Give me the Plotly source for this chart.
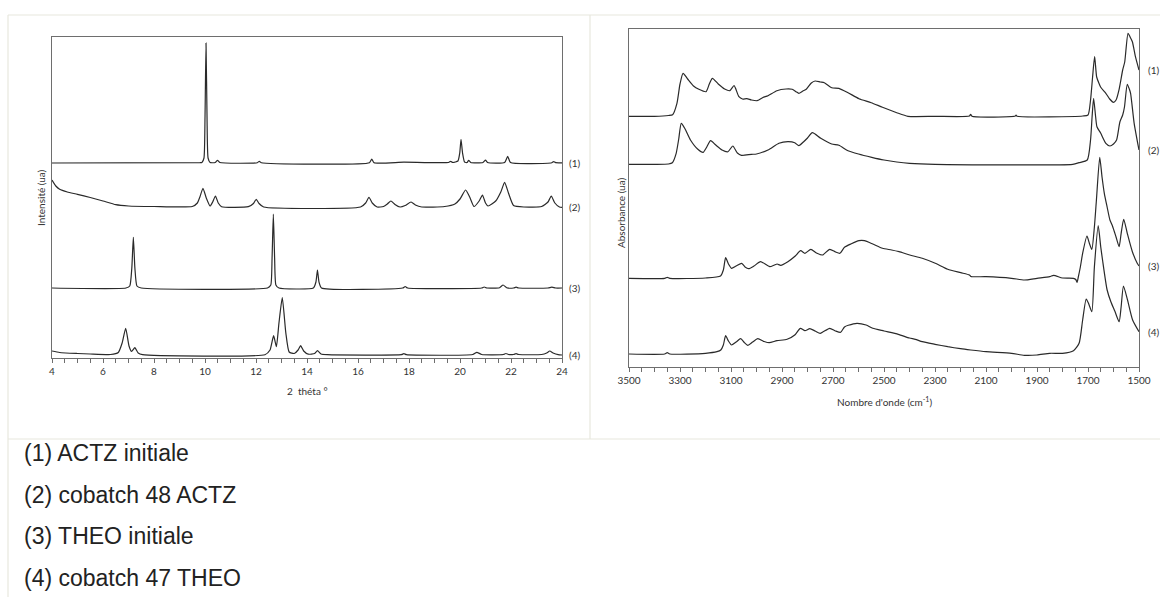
import plotly.graph_objects as go

W, H = 1160, 597

# ---------------- XRD data (2 theta, intensity a.u.) ----------------
xrd_labels = ["(1)", "(2)", "(3)", "(4)"]
xrd1_x = [4, 9.8, 9.88, 9.96, 10.0, 10.04, 10.08, 10.12, 10.2, 10.4, 10.49, 10.58, 12.05, 12.13, 12.21,
          16.45, 16.54, 16.63, 17.8, 19.55, 19.63, 19.72, 19.92, 19.99, 20.04, 20.1, 20.18, 20.28, 20.34,
          20.42, 20.9, 21.0, 21.08, 21.75, 21.87, 21.98, 23.6, 23.67, 23.75, 24]
xrd1_y = [195, 195.3, 195.5, 200, 240, 315, 240, 200, 195.5, 195.5, 197.7, 195.5, 195.3, 196.7, 195.3,
          195.3, 199, 195.3, 195.8, 195.5, 196.7, 195.5, 197, 205, 218.7, 205, 196, 195.5, 197.7,
          195.5, 195.5, 198, 195.5, 195.5, 201.7, 195.5, 195.3, 196.5, 195.3, 195.2]
xrd2_x = [4, 4.15, 4.3, 4.6, 5, 5.5, 6, 6.5, 7, 8, 9.5, 9.7, 9.8, 9.92, 10.05, 10.2, 10.3, 10.41, 10.52,
          10.65, 11.7, 11.9, 12.01, 12.12, 12.3, 16.1, 16.3, 16.43, 16.56, 16.75, 17.0, 17.15, 17.29, 17.45,
          17.65, 17.85, 18.08, 18.25, 18.5, 19.4, 19.8, 20.0, 20.22, 20.38, 20.55, 20.75, 20.88, 21.0, 21.1,
          21.4, 21.6, 21.75, 21.9, 22.1, 22.5, 23.2, 23.45, 23.58, 23.72, 23.9, 24]
xrd2_y = [178, 172, 168.7, 166, 163.7, 160.5, 157, 153.3, 152, 151.5, 151.5, 155, 161, 169.7, 160, 152, 156,
          162, 155, 151.3, 151.3, 154.5, 158.7, 154.5, 151, 151, 155, 160.7, 155, 151, 151.5, 154, 157, 153.5,
          151, 152.5, 156, 153, 151, 151.5, 154, 159, 168, 161, 151.5, 157, 163, 155, 152,
          157, 166, 175.7, 165, 152.5, 151, 151.5, 156, 162, 155, 151, 150.7]
xrd3_x = [4, 6.9, 7.05, 7.13, 7.19, 7.25, 7.33, 7.5, 12.45, 12.58, 12.63, 12.68, 12.73, 12.78, 12.9, 14.25,
          14.35, 14.41, 14.47, 14.57, 17.75, 17.85, 17.95, 20.85, 20.95, 21.05, 21.55, 21.69, 21.83, 22.1,
          22.2, 22.3, 23.45, 23.6, 23.75, 24]
xrd3_y = [70, 70, 72, 90, 120.7, 90, 72, 70, 70, 73, 100, 144, 100, 73, 70, 70,
          76, 88, 76, 70, 70, 71.5, 70, 70, 71, 70, 70.3, 73, 70.3, 70,
          70.8, 70, 70, 70.8, 70, 70]
xrd4_x = [4, 4.3, 5, 5.5, 6.3, 6.6, 6.75, 6.89, 7.02, 7.12, 7.25, 7.38, 7.55, 12.35, 12.55, 12.69, 12.8, 12.9,
          13.03, 13.17, 13.3, 13.5, 13.65, 13.75, 13.87, 14.05, 14.3, 14.41, 14.55, 14.8, 17.7, 17.8, 17.9,
          20.5, 20.66, 20.85, 21.7, 21.8, 21.9, 22.1, 22.2, 22.3, 23.2, 23.4, 23.52, 23.65, 23.85, 24]
xrd4_y = [7, 5.5, 4.5, 4, 3.5, 5.5, 15, 29.7, 12, 6.5, 10.3, 5, 3.3, 3.3, 8, 22.3, 11.3, 35,
          60.3, 25, 6, 4.5, 8, 12.3, 7, 3.8, 4.5, 7.3, 4, 3.3, 3.3, 4.3, 3.3,
          3.5, 5.7, 3.5, 3.5, 4.5, 3.5, 3.5, 4.3, 3.5, 3.5, 5, 7, 5, 3.3, 3]

# ---------------- IR data (wavenumber, absorbance a.u.) ----------------
ir1_x = [3500, 3400, 3345, 3329, 3312, 3300, 3288, 3270, 3247, 3226, 3198, 3185, 3173, 3150, 3125, 3105, 3088,
         3069, 3055, 3038, 3020, 2998, 2975, 2955, 2920, 2884, 2860, 2845, 2834, 2818, 2805, 2785, 2770, 2750,
         2734, 2705, 2677, 2641, 2598, 2550, 2506, 2450, 2406, 2300, 2165, 2160, 2155, 1985, 1982, 1978, 1720,
         1700, 1690, 1682, 1674, 1666, 1657, 1650, 1630, 1615, 1600, 1590, 1578, 1564, 1556, 1543, 1535, 1526,
         1514, 1500]
ir1_y = [250.7, 250.7, 251.5, 252.3, 263.7, 283, 293.7, 288, 281, 277.7, 275.3, 283, 288.7, 283, 278, 276.3, 281.3,
         270.3, 268, 268.3, 267, 266.3, 269.5, 271.3, 276.3, 278, 277.7, 275.3, 273.7, 276, 277.7, 284, 286, 285,
         284.3, 279.3, 278.7, 274.3, 268.3, 264.3, 259.7, 254.3, 250.7, 250.7, 251, 252.7, 250.7, 251, 252, 250.7, 251,
         252, 267, 290, 310.3, 290, 283.7, 279.7, 273.7, 268, 264.7, 267, 277.7, 297, 305, 333.7, 330, 325.3,
         310.3, 297]
ir2_x = [3500, 3400, 3345, 3330, 3315, 3305, 3295, 3280, 3259, 3230, 3209, 3195, 3180, 3160, 3135, 3112, 3093,
         3075, 3059, 3020, 3000, 2955, 2912, 2877, 2850, 2834, 2815, 2800, 2781, 2748, 2705, 2677, 2641, 2600,
         2548, 2500, 2450, 2400, 2300, 1760, 1735, 1703, 1690, 1684, 1678, 1670, 1665, 1650, 1630, 1614, 1600,
         1588, 1575, 1564, 1557, 1546, 1538, 1533, 1519, 1500]
ir2_y = [202.7, 202.7, 203, 204.3, 213.7, 228, 243.7, 238, 227, 217.7, 214.7, 220, 226.3, 222, 217, 215.3, 221,
         214, 211.7, 212.7, 213, 217, 223.7, 225.3, 224.3, 221.3, 225.3, 229, 234.3, 228.7, 223, 221.7, 216.3, 213,
         209.7, 207, 205, 203.7, 202.7, 202.7, 204.3, 207, 227, 250, 268.7, 250, 240.3, 233.7, 223.7, 221, 223,
         227, 245, 252, 260, 282.7, 278, 273.7, 243.7, 217]
ir3_x = [3500, 3360, 3350, 3340, 3200, 3141, 3130, 3121, 3110, 3098, 3080, 3058, 3045, 3031, 3010, 2984, 2948,
         2930, 2919, 2905, 2877, 2848, 2827, 2810, 2787, 2765, 2741, 2713, 2690, 2673, 2655, 2630, 2598, 2577,
         2544, 2506, 2470, 2441, 2399, 2350, 2299, 2250, 2199, 2165, 2159, 2100, 2000, 1949, 1900, 1850, 1835,
         1800, 1757, 1748, 1743, 1738, 1730, 1721, 1704, 1695, 1685, 1675, 1667, 1654, 1645, 1636, 1625, 1614,
         1604, 1590, 1578, 1570, 1560, 1546, 1526, 1507, 1500]
ir3_y = [88.7, 88.7, 89.7, 88.7, 89, 91, 97, 109.3, 103, 98.7, 101, 103.7, 100, 98.3, 101, 105.3, 100.3,
         102, 103, 101.7, 105.3, 111, 116.3, 113.7, 117.7, 114, 112, 117.7, 115, 113.7, 119.7, 123, 126.3, 126.3,
         123, 118.7, 117, 115.3, 112, 108.7, 103.7, 97.7, 94.3, 92, 90.5, 90.3, 88.7, 87, 88.7, 90.3, 91.7,
         89, 88.7, 87.5, 84.7, 90, 100, 113.7, 131, 124, 117.7, 140, 167, 209.7, 190, 173.7, 160, 147,
         141, 130, 120.3, 133.7, 147.7, 133.7, 115.3, 103.7, 101]
ir4_x = [3500, 3360, 3350, 3340, 3200, 3155, 3140, 3130, 3121, 3110, 3098, 3080, 3062, 3048, 3034, 3015, 2995,
         2970, 2950, 2920, 2880, 2850, 2828, 2810, 2791, 2770, 2750, 2713, 2690, 2670, 2655, 2640, 2606, 2570,
         2544, 2500, 2444, 2400, 2377, 2350, 2300, 2250, 2200, 2160, 2100, 2000, 1950, 1900, 1850, 1800, 1757,
         1735, 1721, 1707, 1697, 1685, 1675, 1660, 1650, 1643, 1625, 1610, 1595, 1578, 1570, 1561, 1545, 1525,
         1500]
ir4_y = [13, 13, 14.3, 13, 13.7, 15.3, 17, 22, 31.3, 26, 22, 25, 28.3, 24.5, 21.7, 25, 28.3,
         25.5, 24.3, 26.3, 27.7, 32, 38.7, 36.3, 38.3, 36, 33.7, 38.7, 36, 34.7, 40, 41.7, 43.7, 42,
         38.7, 36, 32.7, 29, 27.7, 25.3, 22.7, 20.3, 18.3, 17, 15.3, 13.7, 11.7, 12, 13.7, 13.7, 16.3,
         23.7, 47, 68, 63, 55.3, 100, 141.3, 120, 107, 77, 65, 56, 45.3, 60.3, 81, 67, 47,
         35.3]

legend_lines = ["(1) ACTZ initiale", "(2) cobatch 48 ACTZ", "(3) THEO initiale", "(4) cobatch 47 THEO"]

LINE = "#2a2a2a"
AX = "#6e6e6e"
PANEL = "#e8e8de"
AXFONT = "Lato"


def px(x):
    return x / W


def py(y):
    return 1 - y / H


fig = go.Figure()

for xs, ys in [(xrd1_x, xrd1_y), (xrd2_x, xrd2_y), (xrd3_x, xrd3_y), (xrd4_x, xrd4_y)]:
    fig.add_trace(go.Scatter(x=xs, y=ys, mode="lines", xaxis="x", yaxis="y",
                             line=dict(color=LINE, width=1.2, shape="spline", smoothing=0.5),
                             showlegend=False, hoverinfo="skip"))
for xs, ys in [(ir1_x, ir1_y), (ir2_x, ir2_y), (ir3_x, ir3_y), (ir4_x, ir4_y)]:
    fig.add_trace(go.Scatter(x=xs, y=ys, mode="lines", xaxis="x2", yaxis="y2",
                             line=dict(color=LINE, width=1.2, shape="spline", smoothing=0.6),
                             showlegend=False, hoverinfo="skip"))

common_x = dict(showline=True, mirror=True, linecolor=AX, linewidth=1.2, showgrid=False, zeroline=False,
                ticks="outside", ticklen=4, tickcolor=AX, tickfont=dict(family=AXFONT, size=10, color="#333"))
common_y = dict(showline=True, mirror=True, linecolor=AX, linewidth=1.2, showgrid=False, zeroline=False,
                showticklabels=False, ticks="")

fig.update_layout(
    width=W, height=H, margin=dict(l=0, r=0, t=0, b=0, autoexpand=False),
    paper_bgcolor="white", plot_bgcolor="white",
    xaxis=dict(domain=[px(52), px(562)], range=[4, 24], dtick=2, tick0=4,
               minor=dict(dtick=0.5, ticks="outside", ticklen=4, tickcolor=AX), anchor="y", **common_x),
    yaxis=dict(domain=[py(358), py(37)], range=[0, 321], anchor="x", **common_y),
    xaxis2=dict(domain=[px(629), px(1139)], range=[3500, 1500], dtick=200, tick0=1500,
                minor=dict(dtick=50, ticks="outside", ticklen=4, tickcolor=AX), anchor="y2", **common_x),
    yaxis2=dict(domain=[py(367), py(29)], range=[0, 338], anchor="x2", **common_y),
)

# panel borders
shapes = [
    dict(type="line", xref="paper", yref="paper", x0=px(8), x1=1, y0=py(15), y1=py(15)),
    dict(type="line", xref="paper", yref="paper", x0=px(8), x1=px(8), y0=py(15), y1=0),
    dict(type="line", xref="paper", yref="paper", x0=px(590), x1=px(590), y0=py(15), y1=py(439)),
    dict(type="line", xref="paper", yref="paper", x0=px(8), x1=1, y0=py(439), y1=py(439)),
]
for s in shapes:
    s["line"] = dict(color=PANEL, width=1.2)
fig.update_layout(shapes=shapes)

ann = []
# axis titles
ann.append(dict(text="2  théta °", xref="paper", yref="paper", x=px(307), y=py(391),
                xanchor="center", yanchor="middle",
                showarrow=False, font=dict(family=AXFONT, size=10, color="#333")))
ann.append(dict(text="Intensité (ua)", xref="paper", yref="paper", x=px(41), y=py(198), textangle=-90,
                xanchor="center", yanchor="middle",
                showarrow=False, font=dict(family=AXFONT, size=10, color="#333")))
ann.append(dict(text="Nombre d'onde (cm<sup>-1</sup>)", xref="paper", yref="paper", x=px(884), y=py(401),
                xanchor="center", yanchor="middle",
                showarrow=False, font=dict(family=AXFONT, size=10, color="#333")))
ann.append(dict(text="Absorbance (ua)", xref="paper", yref="paper", x=px(621), y=py(213), textangle=-90,
                xanchor="center", yanchor="middle",
                showarrow=False, font=dict(family=AXFONT, size=10, color="#333")))
# trace labels (at final value of each trace)
for lab, ys in zip(xrd_labels, [xrd1_y, xrd2_y, xrd3_y, xrd4_y]):
    ann.append(dict(text=lab, xref="paper", yref="y", x=px(567), y=ys[-1], xanchor="left", yanchor="middle",
                    showarrow=False, font=dict(family=AXFONT, size=10, color="#333")))
for lab, ys in zip(xrd_labels, [ir1_y, ir2_y, ir3_y, ir4_y]):
    ann.append(dict(text=lab, xref="paper", yref="y2", x=px(1146), y=ys[-1], xanchor="left", yanchor="middle",
                    showarrow=False, font=dict(family=AXFONT, size=10, color="#333")))
# legend text below
for i, t in enumerate(legend_lines):
    ann.append(dict(text=t, xref="paper", yref="paper", x=px(22), y=py(453 + 41.5 * i),
                    xanchor="left", yanchor="middle",
                    showarrow=False, font=dict(family="Liberation Sans, Arial", size=23, color="#222")))
fig.update_layout(annotations=ann)

fig.write_html("out.html", config={"displayModeBar": False},
               post_script="document.body.style.margin='0';document.body.style.overflow='hidden';")
